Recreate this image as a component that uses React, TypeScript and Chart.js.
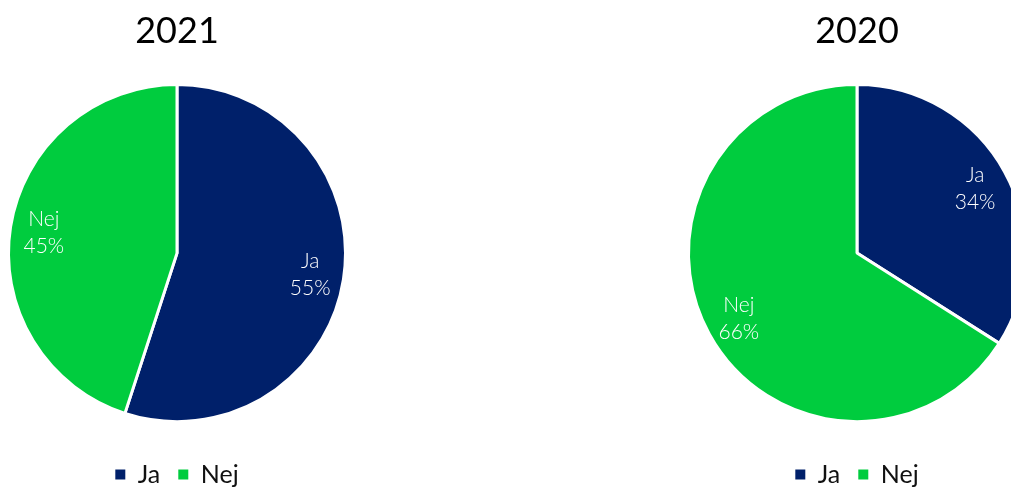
import React, { useEffect, useRef } from "react";
import { Chart, registerables } from "chart.js";

Chart.register(...registerables);

const categories = ["Ja", "Nej"];
const values2021 = [55, 45];
const values2020 = [34, 66];
const titles = ["2021", "2020"];
const colors = ["#00206A", "#00CC3E"];
const FONT = "Lato, 'Open Sans', 'DejaVu Sans', sans-serif";

const labelPlugin = {
  id: "sliceLabels",
  afterDatasetsDraw(chart: any) {
    const ctx = chart.ctx;
    const meta = chart.getDatasetMeta(0);
    const data = chart.data.datasets[0].data as number[];
    const labels = chart.data.labels as string[];
    ctx.save();
    ctx.fillStyle = "#ffffff";
    ctx.font = `300 21px ${FONT}`;
    ctx.textAlign = "center";
    ctx.textBaseline = "middle";
    meta.data.forEach((arc: any, i: number) => {
      const p = arc.getProps(["x", "y", "startAngle", "endAngle", "outerRadius"], true);
      const mid = (p.startAngle + p.endAngle) / 2;
      const r = p.outerRadius * 0.8;
      const cx = p.x + Math.cos(mid) * r;
      const cy = p.y + Math.sin(mid) * r;
      ctx.fillText(labels[i], cx, cy - 13);
      ctx.fillText(`${data[i]}%`, cx, cy + 14);
    });
    ctx.restore();
  },
};

const legendShift = {
  id: "legendShift",
  afterLayout(chart: any) {
    const dy = 9;
    if (chart.legend) {
      chart.legend.top += dy;
      chart.legend.bottom += dy;
    }
  },
};

function PieChart({ title, values }: { title: string; values: number[] }) {
  const ref = useRef<HTMLCanvasElement | null>(null);
  useEffect(() => {
    if (!ref.current) return;
    const chart = new Chart(ref.current, {
      type: "pie",
      data: {
        labels: categories,
        datasets: [
          {
            data: values,
            backgroundColor: colors,
            borderColor: "#ffffff",
            borderWidth: 3,
            radius: 168.5,
          },
        ],
      },
      options: {
        animation: false,
        responsive: true,
        maintainAspectRatio: false,
        layout: { padding: { top: 0, bottom: 0 } },
        plugins: {
          title: {
            display: true,
            text: title,
            color: "#000000",
            font: { family: FONT, size: 36, weight: "normal" },
            padding: { top: 10, bottom: 18 },
          },
          legend: {
            display: true,
            position: "bottom",
            labels: {
              color: "#111111",
              font: { family: FONT, size: 25, weight: "normal" },
              boxWidth: 10,
              boxHeight: 10,
              padding: 18,
              generateLabels(chart: any) {
                const base = Chart.overrides.pie.plugins.legend.labels.generateLabels(chart);
                return base.map((l: any) => ({ ...l, lineWidth: 0, strokeStyle: "transparent" }));
              },
            },
          },
          tooltip: { enabled: false },
        },
      },
      plugins: [labelPlugin, legendShift],
    });
    return () => chart.destroy();
  }, [title, values]);
  return <canvas ref={ref} />;
}

export default function App() {
  return (
    <div
      style={{
        position: "fixed",
        left: 0,
        top: 0,
        width: 1011,
        height: 488,
        overflow: "hidden",
        background: "#ffffff",
      }}
    >
      <div style={{ position: "absolute", left: 0, top: 0, width: 354, height: 488 }}>
        <PieChart title={titles[0]} values={values2021} />
      </div>
      <div style={{ position: "absolute", left: 680, top: 0, width: 354, height: 488 }}>
        <PieChart title={titles[1]} values={values2020} />
      </div>
    </div>
  );
}
